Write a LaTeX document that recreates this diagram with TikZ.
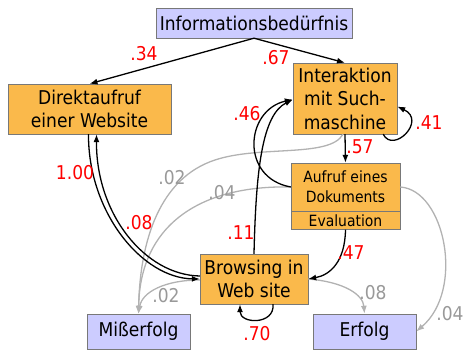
\documentclass[tikz,border=0pt]{standalone}
\usepackage{fontspec}
\setmainfont{DejaVu Sans Condensed}
\usepackage{xcolor}
\usetikzlibrary{arrows.meta}
\definecolor{boxorange}{RGB}{250,185,75}
\definecolor{boxblue}{RGB}{204,204,255}
\definecolor{boxline}{RGB}{120,120,120}

\begin{document}
\begin{tikzpicture}[
  x=1pt, y=-1pt,
  state/.style={draw=boxline, fill=boxorange, rectangle, inner sep=0pt, align=center,
                font=\fontsize{19}{23.5}\selectfont},
  goal/.style={state, fill=boxblue},
  arrow/.style={-{Latex[length=8pt,width=6pt]}, line width=1.3pt},
  weak/.style={arrow, black!30},
  prob/.style={text=red, inner sep=0pt, font=\fontsize{19}{19}\selectfont},
  rare/.style={prob, text=black!40}
]
\useasboundingbox (0,0) rectangle (464,350);

% Start
\node[goal, minimum width=196pt, minimum height=30pt] (info) at (254,23) {Informationsbedürfnis};

% Search paths
\node[state, minimum width=163pt, minimum height=50pt] (direkt) at (89.5,109) {Direktaufruf\\einer Website};
\node[state, minimum width=104pt, minimum height=71pt] (interakt) at (345,98.5) {Interaktion\\mit Such-\\maschine};
\node[state, minimum width=109pt, minimum height=48pt, font=\fontsize{15.5}{20}\selectfont] (aufruf) at (345.5,187) {Aufruf eines\\Dokuments};
\node[state, minimum width=109pt, minimum height=18pt, font=\fontsize{15.5}{20}\selectfont, anchor=north] (eval) at (aufruf.south) {Evaluation};
\node[state, minimum width=108pt, minimum height=50pt] (browse) at (254,279) {Browsing in\\Web site};

% Outcomes
\node[goal, minimum width=103pt, minimum height=35pt] (miss) at (138.5,331.5) {Mißerfolg};
\node[goal, minimum width=103pt, minimum height=35pt] (erfolg) at (364.5,331.5) {Erfolg};

% Rare transitions (grey)
\draw[weak] ([xshift=-2pt]interakt.south) .. controls (330,158) and (260,145) .. (215,160)
  .. controls (160,178) and (140,240) .. (miss.north);
\draw[weak] (aufruf.west) .. controls (200,185) and (140,225) .. (miss.north);
\draw[weak] ([yshift=-1pt]browse.west) .. controls (165,280) and (142,292) .. (miss.north);
\draw[weak] (browse.east) .. controls (345,282) and (363,295) .. (erfolg.north);
\draw[weak] (aufruf.east) .. controls (445,190) and (465,290) .. (erfolg.east);

% Main transitions
\draw[arrow] (info.south) -- (direkt.north);
\draw[arrow] (info.south) -- (interakt.north);
\draw[arrow] ([xshift=-14pt]interakt.south east) .. controls +(10,20) and +(30,14) .. ([yshift=-8pt]interakt.east);
\draw[arrow] (interakt.south) -- (aufruf.north);
\draw[arrow] ([xshift=-1pt]direkt.south) .. controls (88,212) and (142,278) .. (browse.west);
\draw[arrow] ([yshift=3pt]browse.west) .. controls (145,275) and (96,214) .. ([xshift=7pt]direkt.south);
\draw[arrow] (browse.north) .. controls (256,170) and (262,115) .. ([yshift=-1pt]interakt.west);
\draw[arrow] (aufruf.west) .. controls (240,178) and (245,110) .. ([yshift=-1pt]interakt.west);
\draw[arrow] (eval.south) .. controls (345,262) and (330,275) .. (browse.east);
\draw[arrow] ([xshift=19pt]browse.south) .. controls +(2,21) and +(0,20) .. ([xshift=-14pt]browse.south);

% Transition probabilities
\node[prob] (p34) at (144,54) {.34};
\node[prob] (p67) at (276,58) {.67};
\node[prob] (p41) at (429,123) {.41};
\node[prob] (p57) at (360,147) {.57};
\node[prob] (p46) at (247,114) {.46};
\node[prob] (p100) at (75,173) {1.00};
\node[prob] (p08) at (139,223) {.08};
\node[prob] (p11) at (241,233) {.11};
\node[prob] (p47) at (351,253) {.47};
\node[prob] (p70) at (257,334) {.70};
\node[rare] (r02a) at (172,178) {.02};
\node[rare] (r04a) at (222,193) {.04};
\node[rare] (r02b) at (166,296) {.02};
\node[rare] (r08) at (373,293) {.08};
\node[rare] (r04b) at (450,314) {.04};

\end{tikzpicture}
\end{document}
